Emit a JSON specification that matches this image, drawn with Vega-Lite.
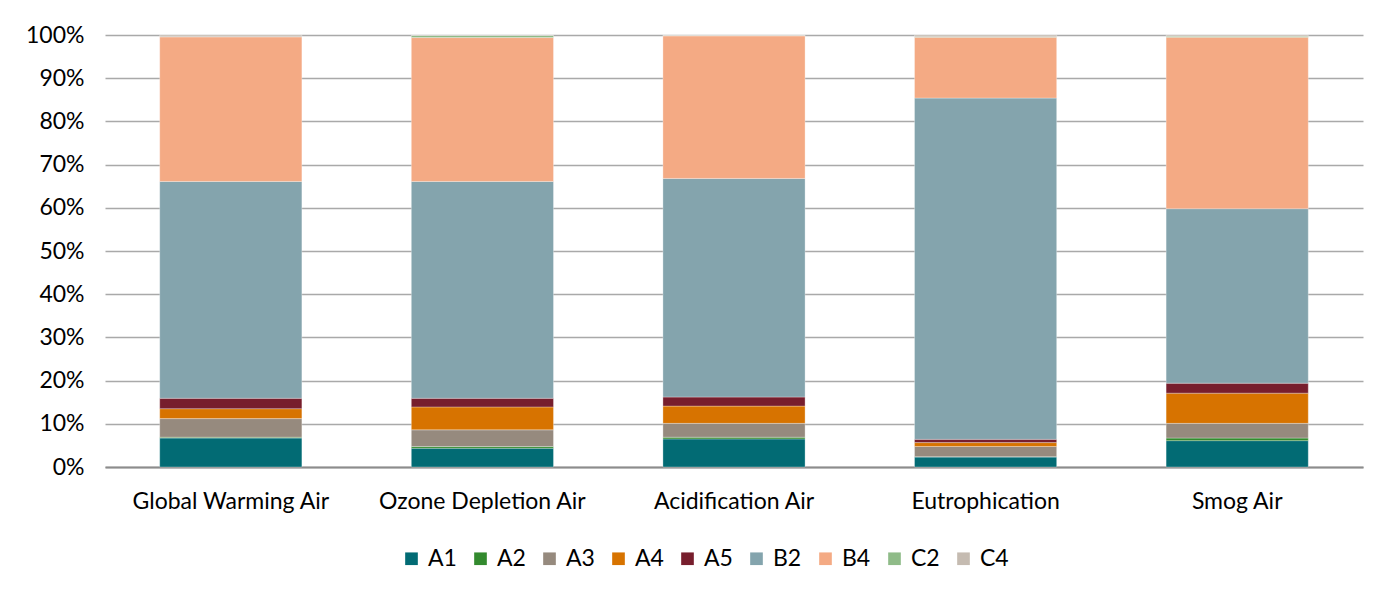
{
  "$schema": "https://vega.github.io/schema/vega-lite/v6.json",
  "autosize": "none",
  "width": 1258,
  "height": 432,
  "padding": {"left": 105, "top": 35, "right": 19, "bottom": 130},
  "background": "white",
  "data": {
    "values": [
      {"category": "Global Warming Air", "series": "A1", "value": 6.7},
      {"category": "Global Warming Air", "series": "A2", "value": 0.2},
      {"category": "Global Warming Air", "series": "A3", "value": 4.3},
      {"category": "Global Warming Air", "series": "A4", "value": 2.3},
      {"category": "Global Warming Air", "series": "A5", "value": 2.4},
      {"category": "Global Warming Air", "series": "B2", "value": 50.2},
      {"category": "Global Warming Air", "series": "B4", "value": 33.5},
      {"category": "Global Warming Air", "series": "C2", "value": 0.0},
      {"category": "Global Warming Air", "series": "C4", "value": 0.4},
      {"category": "Ozone Depletion Air", "series": "A1", "value": 4.35},
      {"category": "Ozone Depletion Air", "series": "A2", "value": 0.4},
      {"category": "Ozone Depletion Air", "series": "A3", "value": 3.85},
      {"category": "Ozone Depletion Air", "series": "A4", "value": 5.3},
      {"category": "Ozone Depletion Air", "series": "A5", "value": 2.0},
      {"category": "Ozone Depletion Air", "series": "B2", "value": 50.2},
      {"category": "Ozone Depletion Air", "series": "B4", "value": 33.3},
      {"category": "Ozone Depletion Air", "series": "C2", "value": 0.5},
      {"category": "Ozone Depletion Air", "series": "C4", "value": 0.1},
      {"category": "Acidification Air", "series": "A1", "value": 6.5},
      {"category": "Acidification Air", "series": "A2", "value": 0.4},
      {"category": "Acidification Air", "series": "A3", "value": 3.2},
      {"category": "Acidification Air", "series": "A4", "value": 4.0},
      {"category": "Acidification Air", "series": "A5", "value": 2.1},
      {"category": "Acidification Air", "series": "B2", "value": 50.6},
      {"category": "Acidification Air", "series": "B4", "value": 33.0},
      {"category": "Acidification Air", "series": "C2", "value": 0.1},
      {"category": "Acidification Air", "series": "C4", "value": 0.1},
      {"category": "Eutrophication", "series": "A1", "value": 2.3},
      {"category": "Eutrophication", "series": "A2", "value": 0.1},
      {"category": "Eutrophication", "series": "A3", "value": 2.35},
      {"category": "Eutrophication", "series": "A4", "value": 0.9},
      {"category": "Eutrophication", "series": "A5", "value": 0.75},
      {"category": "Eutrophication", "series": "B2", "value": 79.0},
      {"category": "Eutrophication", "series": "B4", "value": 14.1},
      {"category": "Eutrophication", "series": "C2", "value": 0.1},
      {"category": "Eutrophication", "series": "C4", "value": 0.4},
      {"category": "Smog Air", "series": "A1", "value": 6.1},
      {"category": "Smog Air", "series": "A2", "value": 0.6},
      {"category": "Smog Air", "series": "A3", "value": 3.4},
      {"category": "Smog Air", "series": "A4", "value": 7.0},
      {"category": "Smog Air", "series": "A5", "value": 2.3},
      {"category": "Smog Air", "series": "B2", "value": 40.4},
      {"category": "Smog Air", "series": "B4", "value": 39.7},
      {"category": "Smog Air", "series": "C2", "value": 0.2},
      {"category": "Smog Air", "series": "C4", "value": 0.3}
    ]
  },
  "mark": {"type": "bar", "stroke": "#ffffff", "strokeWidth": 0.6, "strokeOpacity": 0.5},
  "encoding": {
    "x": {
      "field": "category",
      "type": "nominal",
      "sort": null,
      "scale": {"paddingInner": 0.435, "paddingOuter": 0.2175},
      "axis": {
        "title": null,
        "labelAngle": 0,
        "labelFontSize": 23,
        "labelFont": "Lato",
        "labelColor": "#000000",
        "labelPadding": 23,
        "labelLimit": 0,
        "ticks": false,
        "domainColor": "#8c8c8c",
        "domainWidth": 2
      }
    },
    "y": {
      "field": "value",
      "type": "quantitative",
      "stack": "normalize",
      "scale": {"domain": [0, 1]},
      "axis": {
        "title": null,
        "values": [0, 0.1, 0.2, 0.3, 0.4, 0.5, 0.6, 0.7, 0.8, 0.9, 1],
        "format": ".0%",
        "labelFontSize": 23,
        "labelFont": "Lato",
        "labelColor": "#000000",
        "labelPadding": 21,
        "ticks": false,
        "domain": false,
        "grid": true,
        "gridColor": "#a9a9a9",
        "gridWidth": 1.3
      }
    },
    "order": {"field": "series", "type": "nominal", "sort": "ascending"},
    "color": {
      "field": "series",
      "type": "nominal",
      "scale": {
        "domain": ["A1", "A2", "A3", "A4", "A5", "B2", "B4", "C2", "C4"],
        "range": ["#026b74", "#338a2e", "#968a7e", "#d77300", "#771e2d", "#84a4ad", "#f4aa84", "#8fbb88", "#c5bbb1"]
      },
      "legend": {
        "title": null,
        "orient": "none",
        "legendX": 295,
        "legendY": 512,
        "direction": "horizontal",
        "padding": 0,
        "symbolType": "square",
        "symbolSize": 160,
        "symbolStrokeWidth": 0,
        "labelFontSize": 23,
        "labelFont": "Lato",
        "labelColor": "#000000",
        "labelOffset": 5,
        "columnPadding": 12
      }
    }
  },
  "config": {"view": {"stroke": null}}
}
